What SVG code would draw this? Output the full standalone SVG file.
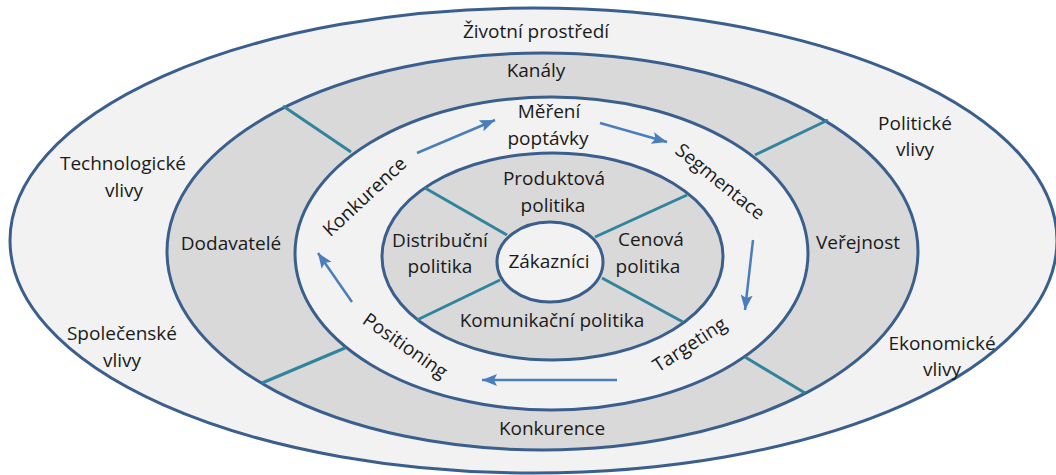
<svg xmlns="http://www.w3.org/2000/svg" width="1056" height="475" viewBox="0 0 1056 475">
<defs>
<style>
.ring{stroke:#3b5f8d;stroke-width:3}
.light{fill:#f2f2f2}
.gray{fill:#d9d9d9}
.div{stroke:#31849b;stroke-width:3;fill:none}
.arr{stroke:#4a7ebb;stroke-width:2.5;fill:none;marker-end:url(#ah)}
text{font-family:"Open Sans","Noto Sans",sans-serif;font-size:19px;fill:#1a1a1a;text-anchor:middle}
</style>
<marker id="ah" markerUnits="userSpaceOnUse" markerWidth="16" markerHeight="12" refX="15" refY="6" orient="auto">
<polygon points="0,0 15,6 0,12 3,6" fill="#4a7ebb"/>
</marker>
</defs>
<rect width="1056" height="475" fill="#ffffff"/>

<g id="zivotni-prostredi">
<ellipse class="ring light" cx="533.5" cy="240.5" rx="523.5" ry="232.5"/>
<text x="536" y="38">Životní prostředí</text>
<text x="123" y="170">Technologické</text>
<text x="124" y="197">vlivy</text>
<text x="122" y="340">Společenské</text>
<text x="122" y="367">vlivy</text>
<text x="915" y="130">Politické</text>
<text x="915" y="156">vlivy</text>
<text x="942" y="350">Ekonomické</text>
<text x="942" y="376">vlivy</text>
</g>

<g id="mikroprostredi">
<ellipse class="ring gray" cx="542.5" cy="251.5" rx="375.5" ry="198.5"/>
<text x="536" y="77">Kanály</text>
<text x="231" y="250">Dodavatelé</text>
<text x="858" y="249">Veřejnost</text>
<text x="552" y="435">Konkurence</text>
</g>

<g id="proces">
<ellipse class="ring light" cx="551.5" cy="253.5" rx="256.5" ry="156.5"/>
<text x="549" y="118">Měření</text>
<text x="548" y="145">poptávky</text>
<text transform="translate(365,197) rotate(-43)" y="6">Konkurence</text>
<text transform="translate(720,182) rotate(39)" y="6">Segmentace</text>
<text transform="translate(690,345) rotate(-33)" y="6">Targeting</text>
<text transform="translate(405,346) rotate(35)" y="6">Positioning</text>
</g>

<g id="marketingovy-mix">
<ellipse class="ring gray" cx="552.5" cy="256.5" rx="170.5" ry="103.5"/>
<text x="554" y="185">Produktová</text>
<text x="553" y="212">politika</text>
<text x="440" y="247">Distribuční</text>
<text x="440" y="273">politika</text>
<text x="651" y="246">Cenová</text>
<text x="648" y="273">politika</text>
<text x="552" y="327">Komunikační politika</text>
</g>

<g id="dividers">
<line class="div" x1="283" y1="106" x2="351" y2="152"/>
<line class="div" x1="828" y1="120" x2="755" y2="155"/>
<line class="div" x1="262" y1="383" x2="345" y2="348"/>
<line class="div" x1="745" y1="357" x2="805" y2="393"/>
<line class="div" x1="425" y1="188" x2="507" y2="235"/>
<line class="div" x1="687" y1="195" x2="595" y2="237"/>
<line class="div" x1="500" y1="280" x2="417" y2="320"/>
<line class="div" x1="602" y1="278" x2="683" y2="322"/>
</g>

<g id="zakaznici">
<ellipse class="ring light" cx="550" cy="262" rx="53" ry="40"/>
<text x="549" y="268">Zákazníci</text>
</g>

<g id="connectors">
<line class="arr" x1="417" y1="153" x2="495" y2="120"/>
<line class="arr" x1="600" y1="123" x2="667" y2="142"/>
<line class="arr" x1="753" y1="240" x2="745" y2="310"/>
<line class="arr" x1="617" y1="380" x2="482" y2="380"/>
<line class="arr" x1="352" y1="302" x2="318" y2="253"/>
</g>
</svg>
